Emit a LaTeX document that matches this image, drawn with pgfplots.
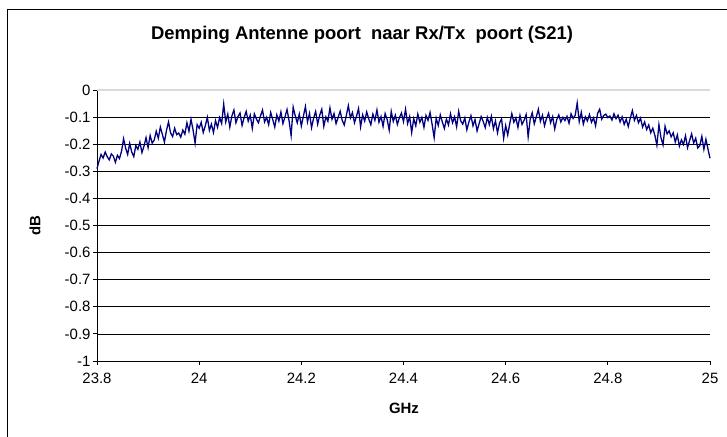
\documentclass[border=0pt]{standalone}
\usepackage{pgfplots}
\usepackage{pgfplotstable}
\pgfplotsset{compat=1.18}
\usepackage{fontspec}
\setmainfont{Liberation Sans}
\definecolor{navyline}{RGB}{0,0,128}
\pgfplotstableread[row sep=\\]{
y\\
-0.290\\ -0.262\\ -0.238\\ -0.251\\ -0.229\\ -0.246\\ -0.258\\ -0.236\\ -0.244\\ -0.267\\
-0.241\\ -0.253\\ -0.226\\ -0.180\\ -0.214\\ -0.238\\ -0.197\\ -0.229\\ -0.246\\ -0.205\\
-0.219\\ -0.192\\ -0.231\\ -0.207\\ -0.176\\ -0.213\\ -0.168\\ -0.196\\ -0.185\\ -0.152\\
-0.178\\ -0.137\\ -0.164\\ -0.192\\ -0.149\\ -0.118\\ -0.158\\ -0.172\\ -0.141\\ -0.165\\
-0.159\\ -0.174\\ -0.148\\ -0.163\\ -0.121\\ -0.152\\ -0.108\\ -0.147\\ -0.196\\ -0.128\\
-0.141\\ -0.119\\ -0.157\\ -0.132\\ -0.101\\ -0.149\\ -0.126\\ -0.157\\ -0.113\\ -0.138\\
-0.102\\ -0.124\\ -0.052\\ -0.118\\ -0.089\\ -0.137\\ -0.096\\ -0.074\\ -0.121\\ -0.098\\
-0.085\\ -0.131\\ -0.102\\ -0.079\\ -0.115\\ -0.093\\ -0.142\\ -0.088\\ -0.107\\ -0.121\\
-0.096\\ -0.074\\ -0.118\\ -0.101\\ -0.128\\ -0.083\\ -0.109\\ -0.137\\ -0.092\\ -0.115\\
-0.081\\ -0.124\\ -0.099\\ -0.072\\ -0.114\\ -0.168\\ -0.063\\ -0.095\\ -0.121\\ -0.089\\
-0.133\\ -0.097\\ -0.061\\ -0.118\\ -0.086\\ -0.139\\ -0.104\\ -0.079\\ -0.126\\ -0.093\\
-0.071\\ -0.134\\ -0.099\\ -0.115\\ -0.066\\ -0.108\\ -0.087\\ -0.124\\ -0.101\\ -0.078\\
-0.112\\ -0.129\\ -0.094\\ -0.058\\ -0.103\\ -0.083\\ -0.121\\ -0.097\\ -0.068\\ -0.136\\
-0.092\\ -0.115\\ -0.081\\ -0.107\\ -0.128\\ -0.089\\ -0.112\\ -0.074\\ -0.119\\ -0.098\\
-0.134\\ -0.087\\ -0.109\\ -0.148\\ -0.079\\ -0.116\\ -0.093\\ -0.127\\ -0.102\\ -0.085\\
-0.117\\ -0.071\\ -0.124\\ -0.098\\ -0.157\\ -0.106\\ -0.132\\ -0.089\\ -0.119\\ -0.101\\
-0.138\\ -0.094\\ -0.112\\ -0.083\\ -0.127\\ -0.176\\ -0.104\\ -0.131\\ -0.092\\ -0.118\\
-0.142\\ -0.107\\ -0.129\\ -0.088\\ -0.121\\ -0.099\\ -0.136\\ -0.079\\ -0.114\\ -0.126\\
-0.103\\ -0.147\\ -0.118\\ -0.095\\ -0.132\\ -0.109\\ -0.151\\ -0.124\\ -0.098\\ -0.116\\
-0.139\\ -0.101\\ -0.128\\ -0.097\\ -0.143\\ -0.114\\ -0.158\\ -0.122\\ -0.107\\ -0.178\\
-0.131\\ -0.166\\ -0.124\\ -0.087\\ -0.119\\ -0.103\\ -0.138\\ -0.094\\ -0.127\\ -0.112\\
-0.091\\ -0.173\\ -0.108\\ -0.084\\ -0.125\\ -0.099\\ -0.071\\ -0.116\\ -0.093\\ -0.132\\
-0.105\\ -0.086\\ -0.121\\ -0.098\\ -0.144\\ -0.109\\ -0.092\\ -0.118\\ -0.101\\ -0.113\\
-0.097\\ -0.123\\ -0.088\\ -0.105\\ -0.094\\ -0.048\\ -0.117\\ -0.082\\ -0.126\\ -0.099\\
-0.114\\ -0.091\\ -0.119\\ -0.103\\ -0.132\\ -0.086\\ -0.071\\ -0.108\\ -0.094\\ -0.089\\
-0.102\\ -0.096\\ -0.111\\ -0.088\\ -0.106\\ -0.093\\ -0.118\\ -0.099\\ -0.127\\ -0.108\\
-0.135\\ -0.103\\ -0.076\\ -0.112\\ -0.094\\ -0.121\\ -0.104\\ -0.137\\ -0.118\\ -0.146\\
-0.129\\ -0.158\\ -0.141\\ -0.167\\ -0.204\\ -0.128\\ -0.176\\ -0.203\\ -0.134\\ -0.162\\
-0.151\\ -0.173\\ -0.158\\ -0.192\\ -0.166\\ -0.207\\ -0.184\\ -0.201\\ -0.169\\ -0.213\\
-0.187\\ -0.162\\ -0.196\\ -0.178\\ -0.214\\ -0.205\\ -0.171\\ -0.219\\ -0.182\\ -0.218\\
-0.252\\
}\datatable
\begin{document}
\begin{tikzpicture}[x=1bp,y=1bp]
\useasboundingbox (0,0) rectangle (727,437);
\draw[line width=1bp] (7,0) -- (7,427) -- (727,427);
\begin{axis}[
  at={(97bp,76bp)}, anchor=south west,
  width=613bp, height=271bp, scale only axis,
  xmin=23.8, xmax=25, ymin=-1, ymax=0,
  axis x line*=bottom, axis y line*=left,
  axis line style={black, line width=0.8bp},
  xtick={23.8,24,24.2,24.4,24.6,24.8,25},
  ytick={-1,-0.9,-0.8,-0.7,-0.6,-0.5,-0.4,-0.3,-0.2,-0.1,0},
  yticklabels={-1,-0.9,-0.8,-0.7,-0.6,-0.5,-0.4,-0.3,-0.2,-0.1,0},
  xticklabels={23.8,24,24.2,24.4,24.6,24.8,25},
  tick align=outside, major tick length=4bp,
  tick style={black, line width=0.8bp},
  ymajorgrids, major grid style={black, line width=0.6bp},
  ticklabel style={font=\fontsize{15}{17}\selectfont},
  yticklabel style={xshift=1bp},
  xticklabel style={yshift=-5bp},
  clip=false,
]
\addplot[color=navyline, line width=1.3bp] table[x expr={23.8+0.004*\coordindex}, y=y] {\datatable};
\draw[gray!30, line width=1.6bp] (axis cs:23.8,0) -- (axis cs:25,0);
\end{axis}
\node[font=\bfseries\fontsize{18.5}{21}\selectfont] at (362,402) {Demping Antenne poort\ \ naar Rx/Tx\ \ poort (S21)};
\node[rotate=90, font=\bfseries\fontsize{15}{17}\selectfont] at (35,211) {dB};
\node[font=\bfseries\fontsize{15}{17}\selectfont] at (404,29) {GHz};
\end{tikzpicture}
\end{document}
